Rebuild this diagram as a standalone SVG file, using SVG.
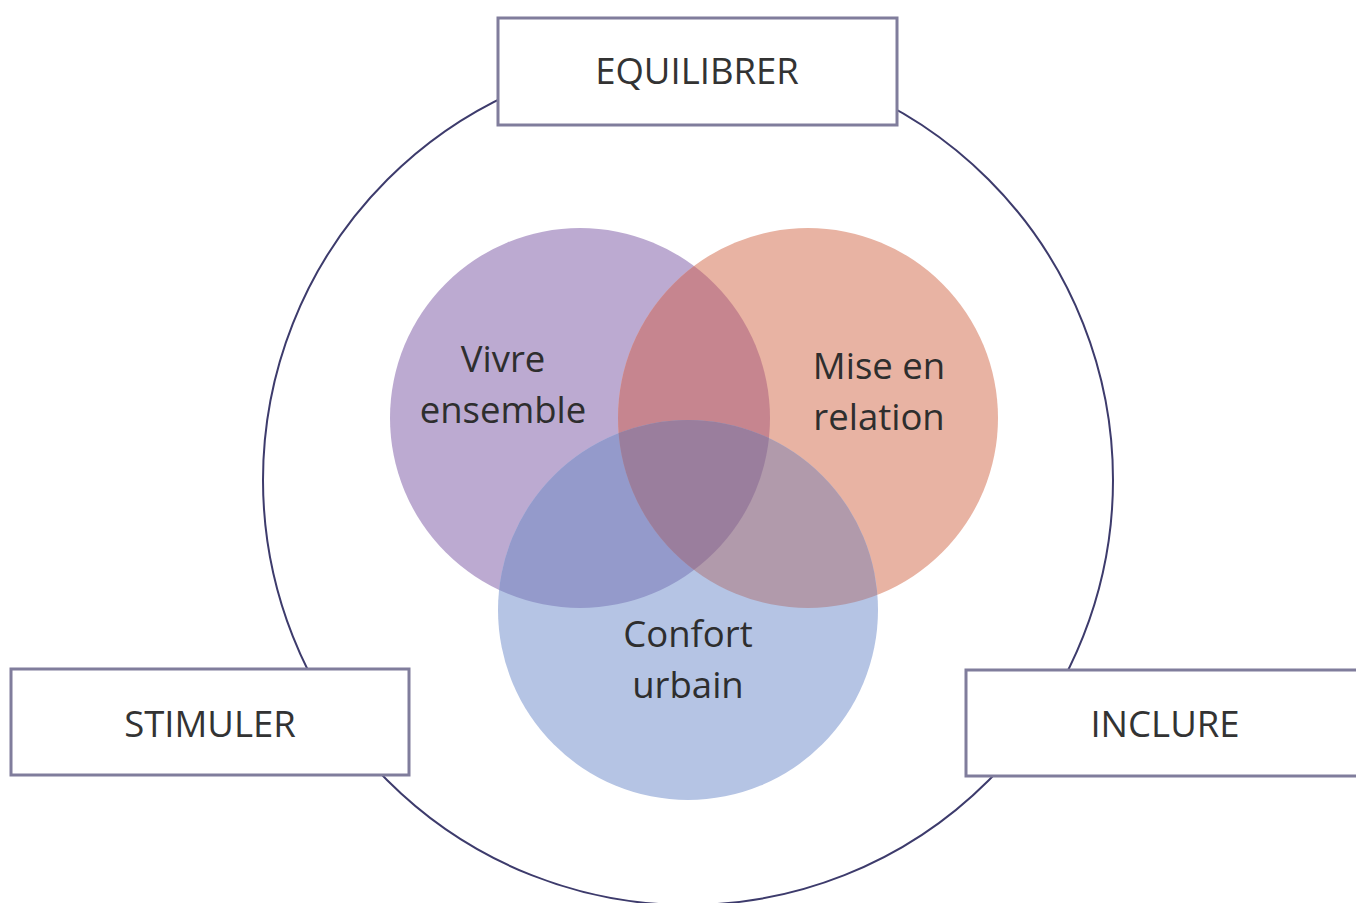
<svg xmlns="http://www.w3.org/2000/svg" width="1356" height="903" viewBox="0 0 1356 903">
<style>
.box{fill:#ffffff;stroke:#807d9c;stroke-width:3}
.lbl{font-family:"Open Sans","Noto Sans",sans-serif;font-size:36.5px;fill:#333333;text-anchor:middle}
.vtxt{font-family:"Open Sans","Noto Sans",sans-serif;font-size:36.5px;fill:#2e2e2e;text-anchor:middle}
</style>
<defs>
<clipPath id="cpP"><circle cx="580" cy="418" r="190"/></clipPath>
<clipPath id="cpO"><circle cx="808" cy="418" r="190"/></clipPath>
<clipPath id="cpB"><circle cx="688" cy="610" r="190"/></clipPath>
</defs>
<rect width="1356" height="903" fill="#ffffff"/>
<g id="connectors">
<circle cx="688" cy="480" r="425" fill="none" stroke="#3d3b6c" stroke-width="2"/>
</g>
<g id="venn">
<circle id="purple" cx="580" cy="418" r="190" fill="#bcaad1"/>
<circle id="orange" cx="808" cy="418" r="190" fill="#e8b3a3"/>
<circle id="blue" cx="688" cy="610" r="190" fill="#b5c4e4"/>
<circle cx="808" cy="418" r="190" fill="#c6858f" clip-path="url(#cpP)"/>
<circle cx="688" cy="610" r="190" fill="#949acb" clip-path="url(#cpP)"/>
<circle cx="688" cy="610" r="190" fill="#b19aab" clip-path="url(#cpO)"/>
<g clip-path="url(#cpP)"><circle cx="688" cy="610" r="190" fill="#9a7e9d" clip-path="url(#cpO)"/></g>
</g>
<g id="n-vivre"><text class="vtxt" x="503" y="372">Vivre</text><text class="vtxt" x="503" y="423">ensemble</text></g>
<g id="n-mise"><text class="vtxt" x="879" y="379">Mise en</text><text class="vtxt" x="879" y="430">relation</text></g>
<g id="n-confort"><text class="vtxt" x="688" y="647">Confort</text><text class="vtxt" x="688" y="698">urbain</text></g>
<g id="n-equilibrer"><rect class="box" x="498" y="18" width="399" height="107"/><text class="lbl" x="697" y="84">EQUILIBRER</text></g>
<g id="n-stimuler"><rect class="box" x="11" y="669" width="398" height="106"/><text class="lbl" x="210" y="737">STIMULER</text></g>
<g id="n-inclure"><rect class="box" x="966" y="670" width="400" height="106"/><text class="lbl" x="1165" y="737">INCLURE</text></g>
</svg>
